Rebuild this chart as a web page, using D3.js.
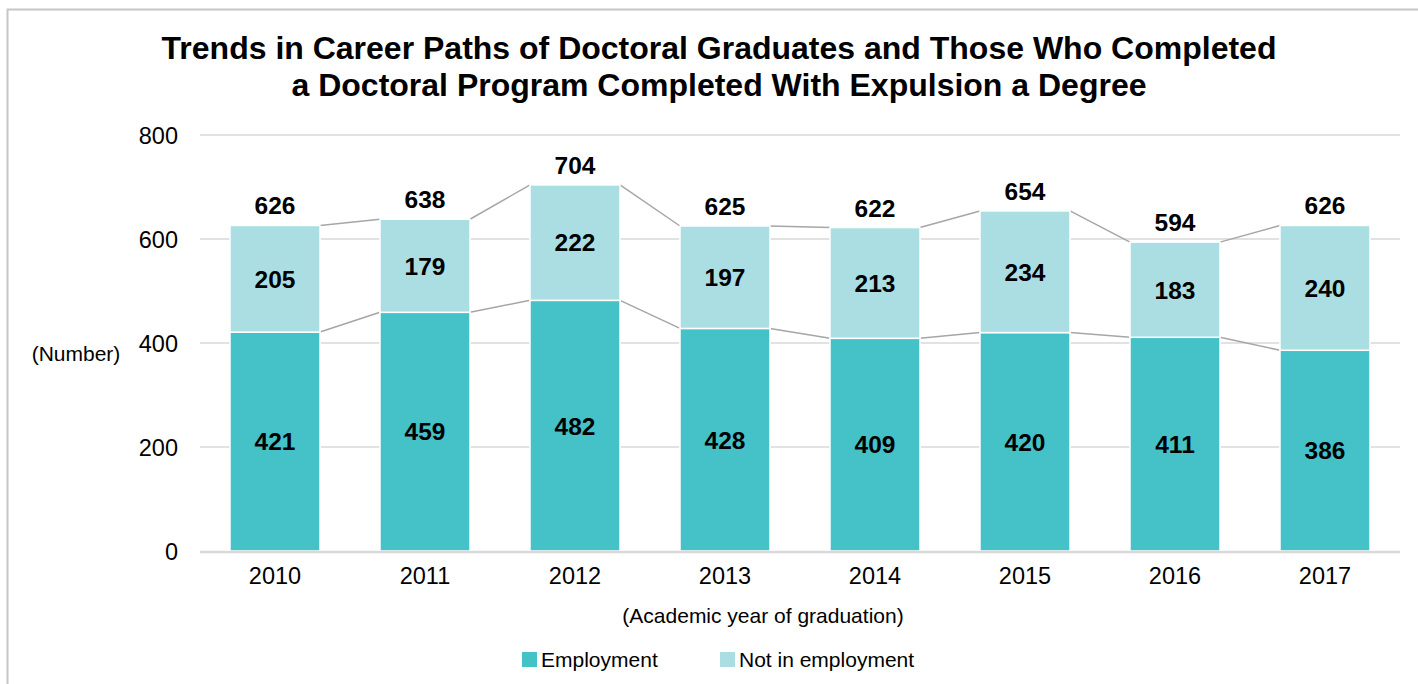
<!DOCTYPE html>
<html><head><meta charset="utf-8">
<script src="https://cdn.jsdelivr.net/npm/d3@7"></script>
<style>body{margin:0;background:#fff;}svg{display:block;font-family:"Liberation Sans",Arial,sans-serif;}</style>
</head><body><svg id="c" width="1418" height="684"></svg>
<script>
const years = ["2010","2011","2012","2013","2014","2015","2016","2017"];
const employment = [421,459,482,428,409,420,411,386];
const notEmployment = [205,179,222,197,213,234,183,240];
const totals = [626,638,704,625,622,654,594,626];
const yTicks = [0,200,400,600,800];
const seriesNames = ["Employment","Not in employment"];
const colors = ["#44c2c8","#abdee2"];

const svg = d3.select("#c");
// frame
svg.append("path").attr("d","M7.5,700 L7.5,9.5 L1430,9.5").attr("fill","none").attr("stroke","#c6c6c6").attr("stroke-width",2);

// title
const title = svg.append("text").attr("text-anchor","middle").attr("font-weight","bold").attr("font-size",32).attr("fill","#000");
title.append("tspan").attr("x",719).attr("y",59).text("Trends in Career Paths of Doctoral Graduates and Those Who Completed");
title.append("tspan").attr("x",719).attr("y",96).text("a Doctoral Program Completed With Expulsion a Degree");

const x = d3.scaleBand().domain(years).range([200,1400]).paddingInner(0.4).paddingOuter(0.2);
const y = d3.scaleLinear().domain([0,800]).range([551,135]);

// gridlines
svg.append("g").selectAll("line").data(yTicks.filter(d=>d>0)).join("line")
  .attr("x1",200).attr("x2",1400).attr("y1",d=>y(d)).attr("y2",d=>y(d))
  .attr("stroke","#d9d9d9").attr("stroke-width",1.5);

// y axis labels
const yAxis = d3.axisLeft(y).tickValues(yTicks).tickSize(0).tickPadding(0);
const gy = svg.append("g").attr("transform","translate(178,0)").call(yAxis);
gy.select(".domain").remove();
gy.selectAll("text").attr("font-size",23.5).attr("fill","#000").attr("font-family","Liberation Sans, Arial, sans-serif").attr("dy","0.35em");

svg.append("text").attr("x",76).attr("y",361).attr("text-anchor","middle").attr("font-size",21).text("(Number)");

const stack = years.map((yr,i)=>({yr, e:employment[i], n:notEmployment[i], t:totals[i]}));

// connector lines
const bw = x.bandwidth();
const conn = svg.append("g").attr("stroke","#a6a6a6").attr("stroke-width",1.5).attr("fill","none");
for(let i=0;i<stack.length-1;i++){
  const a=stack[i], b=stack[i+1];
  conn.append("line").attr("x1",x(a.yr)+bw).attr("x2",x(b.yr)).attr("y1",y(a.e)).attr("y2",y(b.e));
  conn.append("line").attr("x1",x(a.yr)+bw).attr("x2",x(b.yr)).attr("y1",y(a.e+a.n)).attr("y2",y(b.e+b.n));
}

// bars
const bars = svg.append("g");
bars.selectAll("rect.e").data(stack).join("rect").attr("class","e")
  .attr("x",d=>x(d.yr)).attr("width",bw).attr("y",d=>y(d.e)).attr("height",d=>y(0)-y(d.e))
  .attr("fill",colors[0]).attr("stroke","#fff").attr("stroke-width",1.5);
bars.selectAll("rect.n").data(stack).join("rect").attr("class","n")
  .attr("x",d=>x(d.yr)).attr("width",bw).attr("y",d=>y(d.e+d.n)).attr("height",d=>y(d.e)-y(d.e+d.n))
  .attr("fill",colors[1]).attr("stroke","#fff").attr("stroke-width",1.5);

// baseline
svg.append("line").attr("x1",200).attr("x2",1400).attr("y1",y(0)+1).attr("y2",y(0)+1).attr("stroke","#d9d9d9").attr("stroke-width",2.5);

// labels
const lab = svg.append("g").attr("font-weight","bold").attr("font-size",24.5).attr("text-anchor","middle").attr("fill","#000");
lab.selectAll("text.e").data(stack).join("text").attr("class","e")
  .attr("x",d=>x(d.yr)+bw/2).attr("y",d=>(y(0)+y(d.e))/2).attr("dy","0.36em").text(d=>d.e);
lab.selectAll("text.n").data(stack).join("text").attr("class","n")
  .attr("x",d=>x(d.yr)+bw/2).attr("y",d=>(y(d.e)+y(d.e+d.n))/2).attr("dy","0.36em").text(d=>d.n);
lab.selectAll("text.t").data(stack).join("text").attr("class","t")
  .attr("x",d=>x(d.yr)+bw/2).attr("y",d=>y(d.t)-11).text(d=>d.t);

// x axis labels
const xAxis = d3.axisBottom(x).tickSize(0).tickPadding(0);
const gx = svg.append("g").attr("transform","translate(0,576)").call(xAxis);
gx.select(".domain").remove();
gx.selectAll("text").attr("font-size",23.5).attr("fill","#000").attr("font-family","Liberation Sans, Arial, sans-serif").attr("dy","0.35em");

svg.append("text").attr("x",763).attr("y",623).attr("text-anchor","middle").attr("font-size",21).text("(Academic year of graduation)");

// legend
const legX = [522,720];
const leg = svg.append("g");
seriesNames.forEach((s,i)=>{
  leg.append("rect").attr("x",legX[i]).attr("y",652).attr("width",15).attr("height",15).attr("fill",colors[i]);
  leg.append("text").attr("x",legX[i]+19).attr("y",667).attr("font-size",21).text(s);
});
</script></body></html>
